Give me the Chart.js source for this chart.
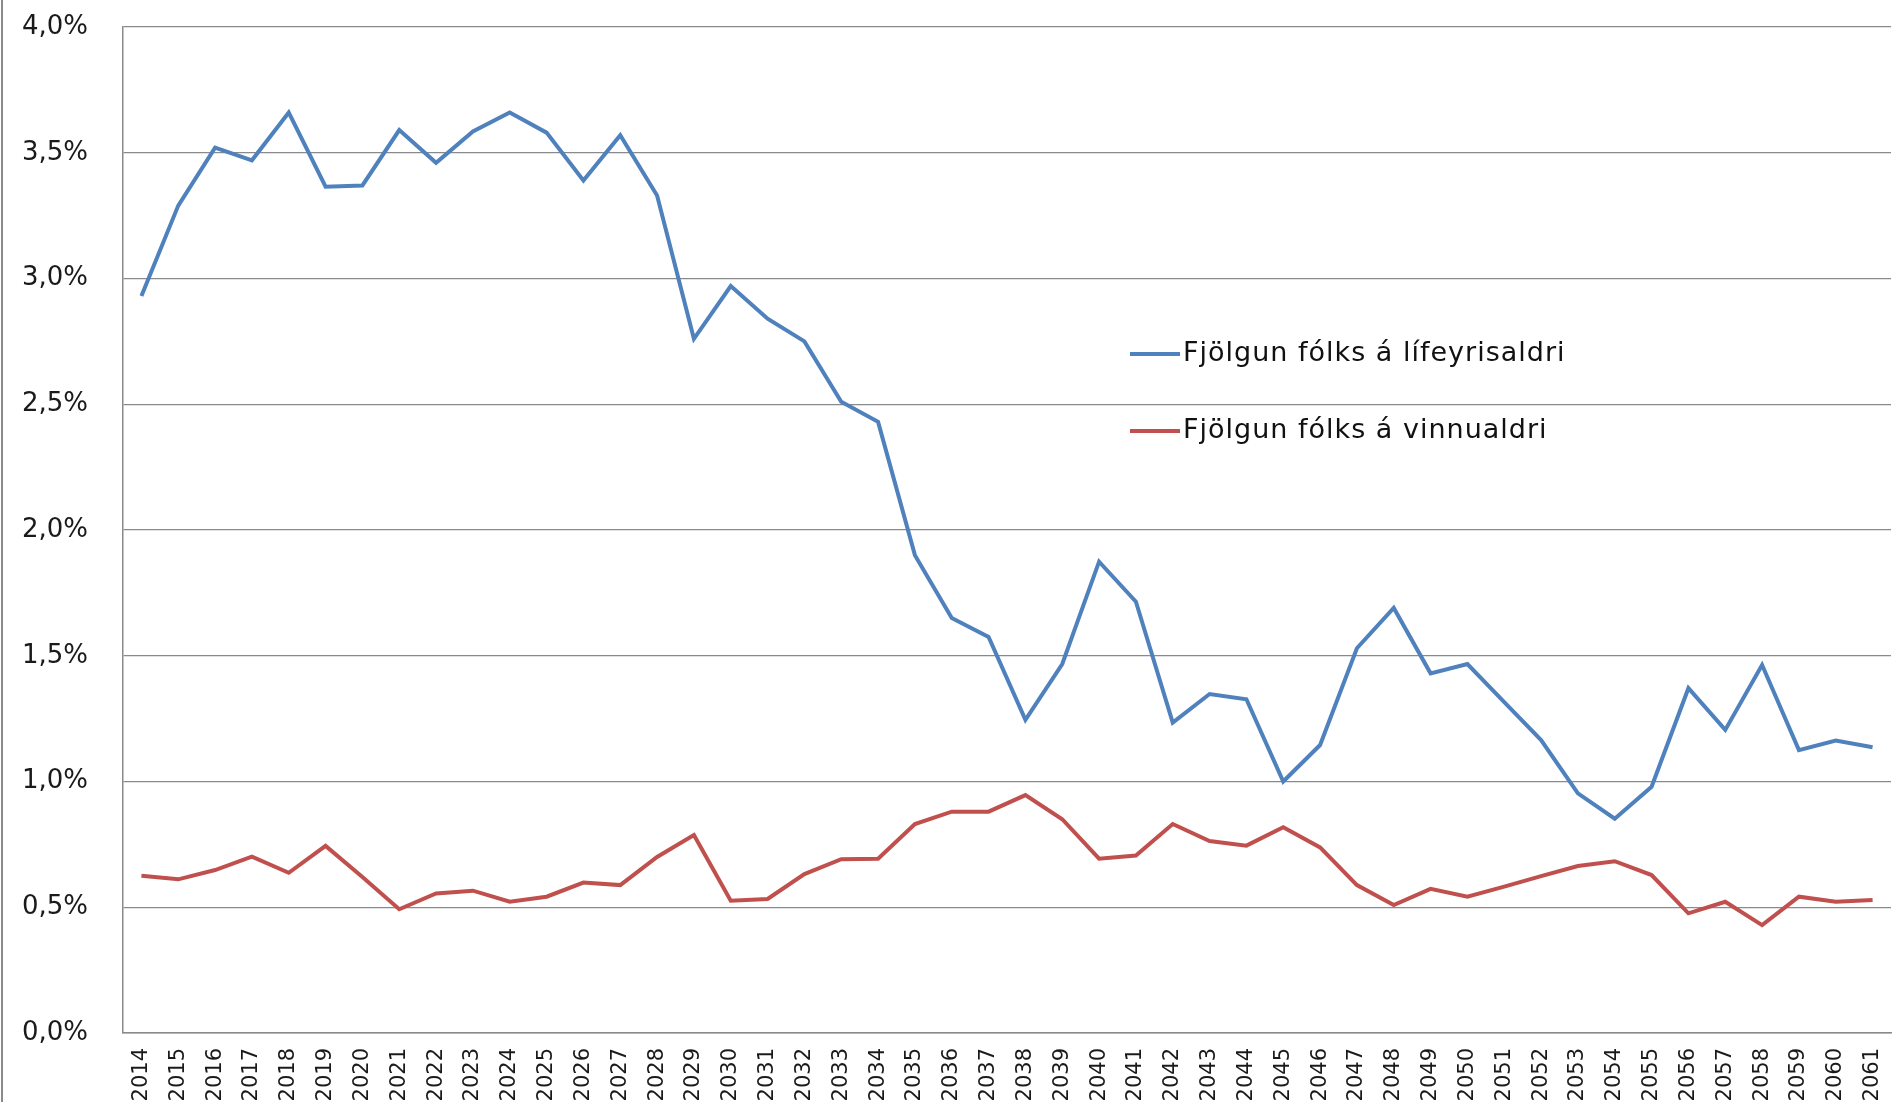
<!DOCTYPE html>
<html>
<head>
<meta charset="utf-8">
<script src="https://cdn.jsdelivr.net/npm/chart.js@4/dist/chart.umd.min.js"></script>
<style>
  html, body { margin: 0; padding: 0; background: #fff; }
  #chart { display: block; }
</style>
</head>
<body>
<canvas id="chart" width="1895" height="1102"></canvas>
<script>
const years = [];
for (let y = 2014; y <= 2061; y++) years.push(String(y));

// Fjölgun fólks á lífeyrisaldri (%)
const pensionAge = [
  2.93, 3.29, 3.52, 3.47, 3.66, 3.365, 3.37, 3.59, 3.46, 3.585,
  3.66, 3.58, 3.39, 3.57, 3.33, 2.76, 2.97, 2.84, 2.75, 2.51,
  2.43, 1.90, 1.65, 1.575, 1.245, 1.467, 1.874, 1.715, 1.234, 1.348,
  1.327, 1.00, 1.145, 1.53, 1.69, 1.43, 1.467, 1.316, 1.165, 0.953,
  0.852, 0.979, 1.371, 1.205, 1.463, 1.125, 1.163, 1.136
];
// Fjölgun fólks á vinnualdri (%)
const workingAge = [
  0.625, 0.611, 0.648, 0.701, 0.637, 0.744, 0.62, 0.492, 0.555, 0.566,
  0.522, 0.542, 0.598, 0.588, 0.70, 0.787, 0.526, 0.533, 0.632, 0.691,
  0.693, 0.831, 0.88, 0.88, 0.946, 0.85, 0.693, 0.706, 0.831, 0.763,
  0.745, 0.818, 0.738, 0.588, 0.509, 0.573, 0.542, 0.582, 0.624, 0.664,
  0.683, 0.628, 0.476, 0.522, 0.429, 0.542, 0.522, 0.529
];
const seriesNames = ['Fjölgun fólks á lífeyrisaldri', 'Fjölgun fólks á vinnualdri'];
const seriesColors = ['#4F81BD', '#C0504D'];

// legend drawn inside the plot, like the Excel original
const innerLegend = {
  id: 'innerLegend',
  afterDatasetsDraw(chart) {
    const c = chart.ctx;
    const rows = [354, 431];
    c.save();
    c.font = '27px "DejaVu Sans"';
    c.letterSpacing = '1px';
    c.textBaseline = 'middle';
    chart.data.datasets.forEach((ds, i) => {
      c.strokeStyle = ds.borderColor;
      c.lineWidth = 4;
      c.beginPath();
      c.moveTo(1130, rows[i]);
      c.lineTo(1180, rows[i]);
      c.stroke();
      c.fillStyle = '#111';
      c.fillText(ds.label, 1183, rows[i]);
    });
    c.restore();
  },
  beforeDraw(chart) {
    const c = chart.ctx;
    c.save();
    c.strokeStyle = '#8a8a8a';
    c.lineWidth = 2;
    c.beginPath();
    c.moveTo(2, 0);
    c.lineTo(2, chart.height);
    c.stroke();
    c.restore();
  }
};

new Chart(document.getElementById('chart'), {
  type: 'line',
  data: {
    labels: years,
    datasets: [
      {
        label: seriesNames[0],
        data: pensionAge,
        borderColor: seriesColors[0],
        backgroundColor: seriesColors[0],
        borderWidth: 4,
        pointRadius: 0,
        tension: 0,
      },
      {
        label: seriesNames[1],
        data: workingAge,
        borderColor: seriesColors[1],
        backgroundColor: seriesColors[1],
        borderWidth: 4,
        pointRadius: 0,
        tension: 0,
      },
    ],
  },
  options: {
    responsive: false,
    animation: false,
    layout: { padding: { top: 27, right: 4, left: 0, bottom: 0 } },
    plugins: {
      legend: { display: false },
      tooltip: { enabled: false },
    },
    scales: {
      x: {
        offset: true,
        grid: { display: false, drawTicks: false },
        border: { display: true, color: '#8a8a8a', width: 1.5 },
        afterFit(scale) {
          scale.height = 69;
          scale.paddingLeft = 0;
          scale.paddingRight = 0;
        },
        ticks: {
          autoSkip: false,
          minRotation: 90,
          maxRotation: 90,
          padding: 15,
          color: '#1a1a1a',
          font: { family: 'DejaVu Sans', size: 21 },
        },
      },
      y: {
        min: 0,
        max: 4,
        afterFit(scale) {
          scale.width = 123;
          scale.paddingTop = 0;
          scale.paddingBottom = 0;
        },
        grid: { color: '#8a8a8a', lineWidth: 1.3, drawTicks: false },
        border: { display: true, color: '#8a8a8a', width: 1.5 },
        ticks: {
          stepSize: 0.5,
          padding: 35,
          color: '#1a1a1a',
          font: { family: 'DejaVu Sans', size: 26 },
          callback: (v) => v.toFixed(1).replace('.', ',') + '%',
        },
      },
    },
  },
  plugins: [innerLegend],
});
</script>
</body>
</html>
